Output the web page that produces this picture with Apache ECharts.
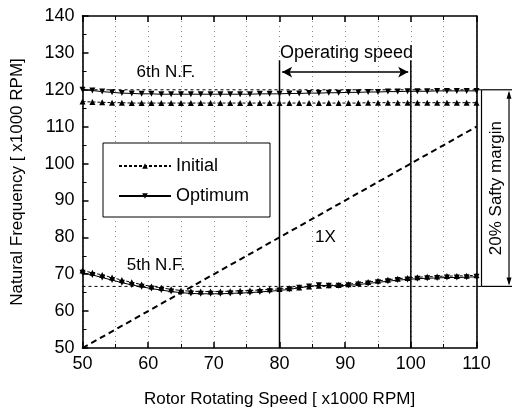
<!DOCTYPE html>
<html><head><meta charset="utf-8">
<script src="https://cdn.jsdelivr.net/npm/echarts@6/dist/echarts.min.js"></script>
<style>html,body{margin:0;padding:0;background:#fff}#c{width:512px;height:419px}</style>
</head><body><div id="c"></div>
<script>
// ---- data ----
const speeds = [50, 51.5, 53, 54.5, 56, 57.5, 59, 60.5, 62, 63.5, 65, 66.5, 68, 69.5, 71, 72.5, 74, 75.5, 77, 78.5,
  80, 81.5, 83, 84.5, 86, 87.5, 89, 90.5, 92, 93.5, 95, 96.5, 98, 99.5, 101, 102.5, 104, 105.5, 107, 108.5, 110];
const initial6 = [116.8, 116.7, 116.6, 116.5, 116.5, 116.4, 116.4, 116.4, 116.4, 116.4, 116.4, 116.4, 116.4, 116.4, 116.4, 116.4, 116.4, 116.4, 116.4, 116.4,
  116.4, 116.4, 116.4, 116.4, 116.4, 116.4, 116.4, 116.4, 116.4, 116.5, 116.5, 116.5, 116.5, 116.5, 116.5, 116.5, 116.5, 116.5, 116.5, 116.5, 116.5];
const optimum6 = [120.0, 119.8, 119.5, 119.3, 119.1, 119.0, 118.9, 118.9, 118.8, 118.8, 118.8, 118.8, 118.8, 118.8, 118.8, 118.8, 118.8, 118.8, 118.9, 118.9,
  118.9, 119.0, 119.0, 119.1, 119.1, 119.2, 119.2, 119.3, 119.3, 119.4, 119.4, 119.5, 119.5, 119.6, 119.6, 119.6, 119.7, 119.7, 119.7, 119.7, 119.7];
const initial5 = [71.0, 70.4, 69.8, 69.1, 68.4, 67.8, 67.2, 66.7, 66.3, 65.9, 65.6, 65.4, 65.3, 65.3, 65.3, 65.4, 65.5, 65.6, 65.7, 65.9,
  66.0, 66.2, 66.4, 66.7, 66.9, 67.0, 67.1, 67.3, 67.6, 67.9, 68.2, 68.5, 68.8, 69.0, 69.2, 69.3, 69.4, 69.5, 69.5, 69.6, 69.7];
const optimum5 = [70.4, 69.8, 69.1, 68.4, 67.7, 67.1, 66.6, 66.1, 65.7, 65.3, 65.0, 64.8, 64.7, 64.7, 64.7, 64.8, 64.9, 65.0, 65.2, 65.4,
  65.6, 65.9, 66.3, 66.7, 67.0, 66.9, 66.9, 67.0, 67.2, 67.5, 67.8, 68.1, 68.4, 68.6, 68.8, 68.9, 69.0, 69.1, 69.1, 69.2, 69.3];
const oneXSpeed = [50, 110];
const oneXFreq = [50, 110];
const operatingSpeeds = [80, 100];
const operatingTop = 128;
const operatingArrowLevel = 124.8;
const marginLevels = [120, 66.7];
const xRange = [50, 110];
const yRange = [50, 140];
const legendNames = ['Initial', 'Optimum'];

// ---- chart ----
const FONT = '"Liberation Sans", Arial, sans-serif';
const chart = echarts.init(document.getElementById('c'), null, {renderer: 'canvas'});
const pairs = (xs, ys) => xs.map((x, i) => [x, ys[i]]);
const black = '#000';

const baseX = {
  type: 'value', min: xRange[0], max: xRange[1], interval: 10,
  axisLine: {show: true, onZero: false, lineStyle: {color: black, width: 1.6}},
  axisTick: {show: true, inside: true, length: 6, lineStyle: {color: black, width: 1.5}},
  minorTick: {show: true, splitNumber: 2, length: 4, lineStyle: {color: black, width: 1}},
};
const baseY = {
  type: 'value', min: yRange[0], max: yRange[1], interval: 10,
  axisLine: {show: true, onZero: false, lineStyle: {color: black, width: 1.6}},
  axisTick: {show: true, inside: true, length: 6, lineStyle: {color: black, width: 1.5}},
  minorTick: {show: true, splitNumber: 2, length: 4, lineStyle: {color: black, width: 1}},
};

const curveSeries = (name, ys, dashed, down) => ({
  name, type: 'line', data: pairs(speeds, ys),
  symbol: 'triangle', symbolSize: 6, symbolRotate: down ? 180 : 0,
  itemStyle: {color: black},
  lineStyle: {color: black, width: 1, type: dashed ? [3, 2] : 'solid'},
  emphasis: {disabled: true}, z: 4
});

chart.setOption({
  animation: false,
  backgroundColor: '#fff',
  grid: {left: 82.5, right: 35.5, top: 16, bottom: 71},
  legend: {
    data: legendNames, orient: 'vertical', left: 103, top: 143,
    backgroundColor: '#fff', borderColor: black, borderWidth: 1,
    padding: [14, 21, 12, 15], itemGap: 12, itemWidth: 52, itemHeight: 7,
    textStyle: {fontSize: 18, lineHeight: 18, color: black, fontFamily: FONT},
    selectedMode: false
  },
  xAxis: [
    Object.assign({}, baseX, {
      position: 'bottom',
      axisLabel: {fontSize: 18, color: black, fontFamily: FONT, margin: 7},
      splitLine: {show: true, lineStyle: {type: [1, 4], color: '#888', width: 1}},
      minorSplitLine: {show: true, lineStyle: {type: [1, 4], color: '#888', width: 1}},
      name: 'Rotor Rotating Speed [ x1000 RPM]', nameLocation: 'middle', nameGap: 43,
      nameTextStyle: {fontSize: 17, color: black, fontFamily: FONT}
    }),
    Object.assign({}, baseX, {position: 'top', axisLabel: {show: false}, splitLine: {show: false}})
  ],
  yAxis: [
    Object.assign({}, baseY, {
      position: 'left',
      axisLabel: {fontSize: 18, color: black, fontFamily: FONT, margin: 8},
      splitLine: {show: false},
      name: 'Natural Frequency [ x1000 RPM]', nameLocation: 'middle', nameGap: 57,
      nameTextStyle: {fontSize: 17, color: black, fontFamily: FONT}
    }),
    Object.assign({}, baseY, {position: 'right', axisTick: {show: false}, minorTick: {show: false}, axisLabel: {show: false}, splitLine: {show: false}})
  ],
  series: [
    curveSeries('Initial', initial6, true, false),
    curveSeries('Optimum', optimum6, false, true),
    curveSeries('Initial', initial5, true, false),
    curveSeries('Optimum', optimum5, false, true),
    {
      name: '1X', type: 'line', data: pairs(oneXSpeed, oneXFreq), symbol: 'none',
      lineStyle: {color: black, width: 2, type: [6, 4]}, emphasis: {disabled: true}, z: 3
    },
    ...marginLevels.map(lv => ({
      name: 'margin', type: 'line', data: [[xRange[0], lv], [xRange[1], lv]], symbol: 'none',
      lineStyle: {color: black, width: 1, type: [3, 3]}, emphasis: {disabled: true}, z: 2
    })),
    ...operatingSpeeds.map(s => ({
      name: 'op', type: 'line', data: [[s, yRange[0]], [s, operatingTop]], symbol: 'none',
      lineStyle: {color: black, width: 1.5}, emphasis: {disabled: true}, z: 3
    })),
    {
      name: 'oparrow', type: 'line', data: [], symbol: 'none',
      markLine: {
        silent: true, symbol: ['arrow', 'arrow'], symbolSize: [8, 10],
        lineStyle: {color: black, width: 1.5, type: 'solid'}, label: {show: false},
        data: [[{coord: [operatingSpeeds[0] + 0.4, operatingArrowLevel]}, {coord: [operatingSpeeds[1] - 0.4, operatingArrowLevel]}]]
      }
    }
  ]
});

// ---- annotations placed through the chart's own scales ----
const P = (x, y) => chart.convertToPixel({gridIndex: 0}, [x, y]);
const topPx = P(xRange[1], marginLevels[0]);
const botPx = P(xRange[1], marginLevels[1]);
const bx = topPx[0] + 5;
const ax = 509;
const txt = (pos, text, size) => ({
  type: 'text', x: pos[0], y: pos[1], silent: true,
  style: {text, fill: black, font: size + 'px ' + FONT, textAlign: 'center', textVerticalAlign: 'middle'}
});
const seg = (x1, y1, x2, y2, w) => ({type: 'line', silent: true, shape: {x1, y1, x2, y2}, style: {stroke: black, lineWidth: w || 1.2}});
chart.setOption({
  graphic: [
    txt(P(90.2, 130.0), 'Operating speed', 18),
    txt(P(62.7, 124.6), '6th N.F.', 17),
    txt(P(61.2, 72.3), '5th N.F.', 17),
    txt(P(87, 80.1), '1X', 17),
    seg(topPx[0], topPx[1], bx, topPx[1], 1),
    seg(botPx[0], botPx[1], bx, botPx[1], 1),
    seg(bx, topPx[1], bx, botPx[1], 1.2),
    seg(bx, topPx[1], 512, topPx[1], 1.2),
    seg(bx, botPx[1], 512, botPx[1], 1.2),
    seg(ax, topPx[1] + 3, ax, botPx[1] - 3, 1.2),
    {type: 'polygon', silent: true, shape: {points: [[ax, topPx[1] + 1], [ax - 2.5, topPx[1] + 9], [ax + 2.5, topPx[1] + 9]]}, style: {fill: black}},
    {type: 'polygon', silent: true, shape: {points: [[ax, botPx[1] - 1], [ax - 2.5, botPx[1] - 9], [ax + 2.5, botPx[1] - 9]]}, style: {fill: black}},
    {
      type: 'text', x: (bx + ax) / 2 + 1, y: (topPx[1] + botPx[1]) / 2, rotation: Math.PI / 2, silent: true,
      style: {text: '20% Safty margin', fill: black, font: '17px ' + FONT, textAlign: 'center', textVerticalAlign: 'middle'}
    }
  ]
});
</script></body></html>
